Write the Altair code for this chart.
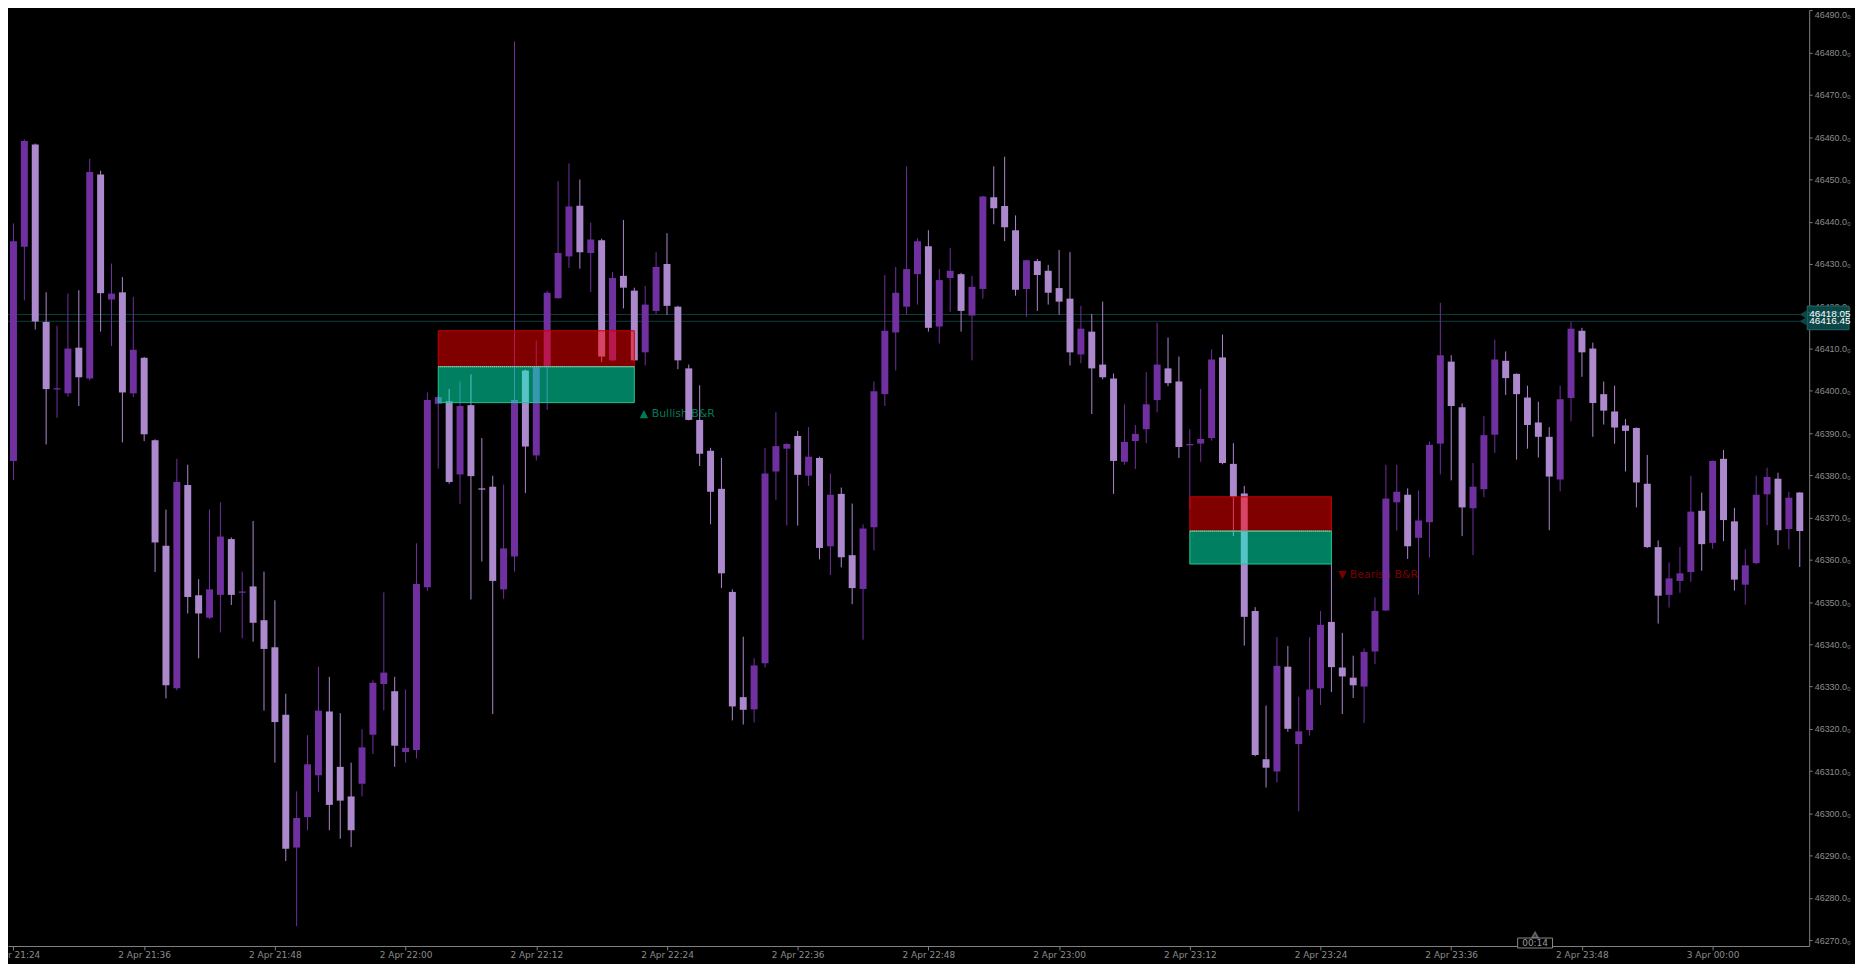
import altair as alt
import pandas as pd

# ---------------- data (1-minute candles, index 0 = 2 Apr 21:24) ----------------
FIRST_INDEX = -1
OPEN = [46405.0, 46383.4, 46434.1, 46458.3, 46416.3, 46400.3, 46399.4, 46410.2, 46402.9, 46451.2,
        46421.6, 46423.3, 46399.4, 46407.8, 46388.3, 46363.3, 46329.6, 46377.7, 46351.6, 46346.3,
        46351.7, 46364.9, 46352.2, 46353.7, 46345.7, 46339.3, 46323.3, 46291.9, 46299.1, 46309.0,
        46324.1, 46311.0, 46304.0, 46307.0, 46318.6, 46330.6, 46328.9, 46314.5, 46315.0, 46353.5,
        46396.9, 46397.5, 46380.2, 46396.6, 46376.9, 46377.3, 46353.0, 46360.8, 46404.8, 46384.7,
        46405.9, 46421.9, 46431.8, 46443.8, 46432.6, 46435.6, 46407.2, 46427.2, 46423.7, 46409.1,
        46418.9, 46430.0, 46419.9, 46405.3, 46393.1, 46385.8, 46376.8, 46352.4, 46327.5, 46324.6,
        46335.5, 46380.9, 46386.3, 46389.3, 46379.9, 46384.1, 46363.2, 46375.6, 46361.1, 46353.1,
        46367.7, 46399.2, 46413.8, 46419.9, 46427.6, 46434.2, 46415.2, 46426.7, 46427.6, 46417.8,
        46424.1, 46445.8, 46443.7, 46438.0, 46424.1, 46430.7, 46428.4, 46424.3, 46421.8, 46408.6,
        46414.0, 46406.2, 46402.9, 46383.2, 46388.1, 46390.9, 46397.8, 46405.3, 46402.2, 46387.1,
        46387.5, 46388.8, 46407.9, 46382.7, 46375.7, 46347.9, 46312.8, 46309.9, 46334.7, 46316.4,
        46319.7, 46329.6, 46345.3, 46334.5, 46332.1, 46330.0, 46338.3, 46348.0, 46373.6, 46375.4,
        46365.2, 46368.9, 46387.5, 46406.9, 46396.1, 46372.2, 46376.7, 46389.6, 46407.1, 46404.0,
        46398.4, 46392.5, 46389.1, 46379.0, 46398.3, 46414.2, 46410.0, 46399.2, 46395.1, 46391.8,
        46391.2, 46378.0, 46363.0, 46351.7, 46355.0, 46357.1, 46371.6, 46364.0, 46383.9, 46369.1,
        46354.1, 46359.2, 46375.5, 46379.2, 46367.3, 46375.9]
HIGH = [46407.0, 46439.6, 46459.5, 46458.5, 46423.3, 46415.4, 46423.0, 46423.8, 46454.9, 46452.1,
        46430.1, 46426.9, 46422.2, 46408.0, 46388.5, 46371.9, 46383.9, 46382.5, 46355.4, 46371.9,
        46373.6, 46365.3, 46357.2, 46369.2, 46357.2, 46350.4, 46328.3, 46305.2, 46318.5, 46334.7,
        46332.3, 46323.7, 46312.0, 46319.9, 46331.5, 46352.3, 46332.3, 46329.3, 46363.9, 46399.6,
        46399.0, 46400.4, 46402.2, 46403.9, 46388.8, 46379.9, 46377.8, 46482.7, 46405.0, 46411.9,
        46423.6, 46449.6, 46453.8, 46450.0, 46439.8, 46436.0, 46428.1, 46440.4, 46424.4, 46424.8,
        46432.8, 46437.3, 46420.1, 46406.2, 46401.3, 46386.5, 46384.1, 46353.0, 46341.8, 46336.7,
        46386.5, 46394.9, 46387.6, 46390.5, 46391.4, 46384.4, 46380.4, 46377.1, 46373.3, 46368.4,
        46402.2, 46427.4, 46429.3, 46453.1, 46436.1, 46438.0, 46428.8, 46433.8, 46427.9, 46427.2,
        46446.1, 46453.1, 46455.4, 46441.5, 46431.0, 46431.2, 46429.8, 46433.3, 46432.8, 46420.1,
        46418.2, 46421.1, 46404.1, 46396.8, 46391.9, 46404.4, 46416.1, 46412.6, 46408.1, 46390.9,
        46400.4, 46409.8, 46413.3, 46387.6, 46377.5, 46348.8, 46325.5, 46341.7, 46339.6, 46327.6,
        46341.7, 46347.9, 46359.0, 46342.7, 46337.3, 46339.0, 46351.1, 46382.5, 46382.5, 46376.9,
        46376.4, 46388.0, 46420.8, 46408.4, 46397.0, 46382.9, 46394.0, 46412.1, 46409.3, 46404.1,
        46401.2, 46397.4, 46391.4, 46401.2, 46416.4, 46414.9, 46411.4, 46402.2, 46401.2, 46393.3,
        46391.3, 46384.8, 46364.6, 46359.4, 46363.0, 46379.9, 46375.9, 46383.5, 46386.0, 46372.3,
        46362.5, 46379.9, 46381.8, 46380.6, 46376.1, 46376.0]
LOW = [46380.0, 46378.9, 46421.4, 46414.5, 46387.3, 46393.6, 46398.6, 46396.4, 46402.5, 46414.0,
       46410.6, 46387.8, 46398.5, 46388.1, 46357.1, 46327.2, 46329.1, 46347.3, 46336.7, 46346.0,
       46342.8, 46349.3, 46341.4, 46340.6, 46324.3, 46312.0, 46288.7, 46273.3, 46296.0, 46305.0,
       46296.0, 46294.0, 46292.0, 46304.0, 46314.0, 46324.4, 46311.0, 46312.0, 46313.0, 46352.6,
       46381.6, 46378.0, 46373.2, 46350.6, 46359.6, 46323.5, 46350.8, 46357.2, 46375.8, 46383.5,
       46395.5, 46421.8, 46429.1, 46428.9, 46423.4, 46406.8, 46407.0, 46419.5, 46407.0, 46406.0,
       46418.1, 46418.0, 46405.1, 46393.0, 46382.2, 46368.4, 46353.3, 46322.0, 46321.0, 46321.5,
       46334.5, 46374.2, 46368.1, 46368.1, 46377.5, 46360.1, 46356.4, 46358.2, 46349.5, 46341.1,
       46362.2, 46396.4, 46404.8, 46418.0, 46420.4, 46414.0, 46411.2, 46418.7, 46414.0, 46407.2,
       46421.8, 46439.4, 46435.4, 46422.5, 46417.5, 46418.9, 46420.4, 46418.0, 46406.0, 46406.5,
       46394.5, 46402.7, 46375.6, 46382.5, 46381.5, 46387.6, 46394.9, 46401.1, 46384.1, 46372.0,
       46383.2, 46388.2, 46382.6, 46365.6, 46339.7, 46313.5, 46306.1, 46307.3, 46319.3, 46300.5,
       46318.4, 46325.6, 46328.7, 46323.5, 46327.3, 46321.4, 46335.3, 46347.9, 46366.9, 46360.2,
       46351.7, 46360.6, 46380.2, 46378.8, 46365.6, 46361.1, 46374.8, 46385.3, 46399.0, 46383.7,
       46386.3, 46384.2, 46367.0, 46376.2, 46392.8, 46403.3, 46389.1, 46392.0, 46387.5, 46380.9,
       46372.4, 46362.8, 46344.9, 46348.7, 46352.2, 46354.8, 46357.4, 46362.6, 46364.4, 46352.7,
       46349.4, 46359.0, 46368.2, 46363.5, 46362.5, 46358.3]
CLOSE = [46383.9, 46435.4, 46459.1, 46416.4, 46400.4, 46400.6, 46410.0, 46403.2, 46451.8, 46423.1,
         46423.0, 46399.6, 46409.7, 46389.7, 46364.1, 46330.3, 46378.4, 46351.2, 46347.3, 46353.0,
         46365.5, 46351.7, 46352.5, 46345.1, 46338.9, 46321.6, 46291.6, 46298.9, 46311.6, 46324.3,
         46302.0, 46303.0, 46296.0, 46315.6, 46330.9, 46333.3, 46316.0, 46315.5, 46354.3, 46397.8,
         46398.5, 46378.4, 46396.4, 46379.8, 46376.6, 46355.0, 46362.7, 46397.8, 46386.8, 46405.9,
         46423.2, 46432.6, 46443.6, 46432.8, 46435.8, 46408.1, 46426.7, 46424.4, 46407.2, 46420.4,
         46429.3, 46420.1, 46407.2, 46393.1, 46385.1, 46376.1, 46356.8, 46325.3, 46324.5, 46335.0,
         46380.4, 46386.9, 46387.4, 46380.1, 46384.4, 46362.8, 46375.4, 46360.6, 46353.3, 46367.4,
         46399.9, 46414.2, 46423.2, 46428.8, 46435.4, 46414.9, 46426.2, 46428.4, 46418.9, 46424.6,
         46446.0, 46443.2, 46438.7, 46423.9, 46430.9, 46427.4, 46423.2, 46421.1, 46409.1, 46414.7,
         46405.3, 46403.2, 46383.4, 46387.9, 46389.8, 46396.8, 46406.2, 46401.8, 46386.7, 46387.4,
         46388.6, 46407.4, 46382.9, 46374.9, 46346.5, 46313.8, 46310.8, 46334.9, 46320.0, 46319.4,
         46329.3, 46344.6, 46334.6, 46332.4, 46330.3, 46338.2, 46347.9, 46374.5, 46376.1, 46363.2,
         46369.3, 46387.2, 46408.4, 46396.4, 46372.4, 46377.3, 46389.5, 46407.4, 46403.0, 46399.2,
         46391.9, 46389.1, 46379.7, 46398.0, 46414.7, 46409.1, 46397.1, 46395.3, 46391.3, 46390.5,
         46378.3, 46363.0, 46351.5, 46355.6, 46356.8, 46371.4, 46363.7, 46383.4, 46369.4, 46355.3,
         46358.7, 46375.4, 46379.6, 46367.0, 46374.7, 46366.8]

TICK_POS = [0, 12, 24, 36, 48, 60, 72, 84, 96, 108, 120, 132, 144, 156]
TICK_LABELS = ["2 Apr 21:24", "2 Apr 21:36", "2 Apr 21:48", "2 Apr 22:00", "2 Apr 22:12",
               "2 Apr 22:24", "2 Apr 22:36", "2 Apr 22:48", "2 Apr 23:00", "2 Apr 23:12",
               "2 Apr 23:24", "2 Apr 23:36", "2 Apr 23:48", "3 Apr 00:00"]
Y_TICKS = list(range(46270, 46491, 10))

ZONE_START = [39, 108]
ZONE_END = [57, 121]
ZONE_TOP = [46414.2, 46374.9]
ZONE_MID = [46405.7, 46366.8]
ZONE_BOTTOM = [46397.2, 46359.0]
ZONE_LABELS = ["▲ Bullish B&R", "▼ Bearish B&R"]
ZONE_LABEL_X = [57.5, 121.6]
ZONE_LABEL_Y = [46394.5, 46356.4]
ZONE_LABEL_KIND = ["bull", "bear"]

PRICE_LINES = [46418.05, 46416.45]
PRICE_LINE_LABELS = ["46418.05", "46416.45"]

COUNTDOWN = ["00:14"]
COUNTDOWN_X = [139.7]

# ---------------- styling ----------------
BULL = "#7030A0"
BEAR = "#AC88CC"
W, H = 1809, 940
X_DOMAIN = [-0.0455, 164.409]
Y_DOMAIN = [46268.6, 46490.1]

n = len(OPEN)
df = pd.DataFrame({
    "idx": list(range(FIRST_INDEX, FIRST_INDEX + n)),
    "open": OPEN, "high": HIGH, "low": LOW, "close": CLOSE,
})
df["dir"] = ["up" if c >= o else "down" for o, c in zip(df["open"], df["close"])]

zones = pd.DataFrame({"start": ZONE_START, "end": ZONE_END, "top": ZONE_TOP,
                      "mid": ZONE_MID, "bottom": ZONE_BOTTOM})
zlabels = pd.DataFrame({"x": ZONE_LABEL_X, "y": ZONE_LABEL_Y, "text": ZONE_LABELS,
                        "kind": ZONE_LABEL_KIND})
plines = pd.DataFrame({"price": PRICE_LINES, "label": PRICE_LINE_LABELS})
plines["top"] = plines["price"] + 2.0
plines["bot"] = plines["price"] - 2.0
cd = pd.DataFrame({"x": COUNTDOWN_X, "text": COUNTDOWN})
cd["x1"] = cd["x"] - 1.6
cd["x2"] = cd["x"] + 1.6

x_label_expr = " : ".join(f"datum.value == {p} ? '{l}'" for p, l in zip(TICK_POS, TICK_LABELS)) + " : ''"

X_AXIS = alt.Axis(values=TICK_POS, labelExpr=x_label_expr, title=None, grid=False,
                  tickSize=4, labelPadding=1, labelFlush=False, labelOverlap=False,
                  domainColor="#808080", tickColor="#808080", labelColor="#8c8c8c",
                  labelFont="DejaVu Sans", labelFontSize=9)
Y_AXIS = alt.Axis(values=Y_TICKS, labelExpr="format(datum.value, '.1f') + '₀'", title=None,
                  grid=False, orient="right", tickSize=3, labelPadding=2, labelAlign="left",
                  labelOverlap=False, labelFlush=3,
                  domainColor="#808080", tickColor="#808080", labelColor="#8c8c8c",
                  labelFont="Liberation Sans", labelFontSize=9)
XS = alt.Scale(domain=X_DOMAIN, nice=False, zero=False)
YS = alt.Scale(domain=Y_DOMAIN, nice=False, zero=False)
color = alt.Color("dir:N", scale=alt.Scale(domain=["up", "down"], range=[BULL, BEAR]), legend=None)

base = alt.Chart(df)

price_rules = alt.Chart(plines).mark_rule(color="#0d3b3b", strokeWidth=1).encode(
    y=alt.Y("price:Q", scale=YS, axis=Y_AXIS))


def zone_text_layer(kind, col):
    return alt.Chart(zlabels).transform_filter(alt.datum.kind == kind).mark_text(
        align="left", baseline="middle", font="DejaVu Sans", fontSize=11, color=col).encode(
        x=alt.X("x:Q", scale=XS, axis=X_AXIS), y=alt.Y("y:Q", scale=YS, axis=Y_AXIS), text="text:N")


bull_text = zone_text_layer("bull", "#007a58")
bear_text = zone_text_layer("bear", "#7a0000")

wicks = base.mark_rule(strokeWidth=1, clip=True).encode(
    x=alt.X("idx:Q", scale=XS, axis=X_AXIS),
    y=alt.Y("low:Q", scale=YS, axis=Y_AXIS), y2="high:Q", color=color)

bodies = base.mark_bar(size=7, clip=True, minBandSize=1).encode(
    x=alt.X("idx:Q", scale=XS, axis=X_AXIS),
    y=alt.Y("open:Q", scale=YS, axis=Y_AXIS), y2="close:Q", color=color)

red_zone = alt.Chart(zones).mark_rect(fill="#ff0000", fillOpacity=0.5, stroke="#c80000",
                                      strokeWidth=1).encode(
    x=alt.X("start:Q", scale=XS, axis=X_AXIS), x2="end:Q",
    y=alt.Y("top:Q", scale=YS, axis=Y_AXIS), y2="mid:Q")
green_zone = alt.Chart(zones).mark_rect(fill="#00ffc0", fillOpacity=0.5, stroke="#1fc88f",
                                        strokeWidth=1).encode(
    x=alt.X("start:Q", scale=XS, axis=X_AXIS), x2="end:Q",
    y=alt.Y("mid:Q", scale=YS, axis=Y_AXIS), y2="bottom:Q")
mid_rule = alt.Chart(zones).mark_rule(color="#c8c8c8", strokeDash=[1, 1], strokeWidth=1).encode(
    x=alt.X("start:Q", scale=XS, axis=X_AXIS), x2="end:Q",
    y=alt.Y("mid:Q", scale=YS, axis=Y_AXIS))

tag_box = alt.Chart(plines).mark_rect(fill="#0c4646", stroke="#1c6a6a", strokeWidth=1,
                                      clip=False).encode(
    x=alt.value(W - 2), x2=alt.value(W + 40),
    y=alt.Y("top:Q", scale=YS, axis=Y_AXIS), y2="bot:Q")
tag_arrow = alt.Chart(plines).mark_point(shape="triangle-left", filled=True, fill="#0c4646",
                                         size=70, opacity=1, clip=False).encode(
    x=alt.value(W - 6), y=alt.Y("price:Q", scale=YS, axis=Y_AXIS))
tag_text = alt.Chart(plines).mark_text(align="left", baseline="middle", color="#ffffff",
                                       font="Liberation Sans", fontSize=10, clip=False).encode(
    x=alt.value(W), y=alt.Y("price:Q", scale=YS, axis=Y_AXIS), text="label:N")

cd_box = alt.Chart(cd).mark_rect(fill="#000000", stroke="#8a8a8a", strokeWidth=1, clip=False).encode(
    x=alt.X("x1:Q", scale=XS, axis=X_AXIS), x2="x2:Q", y=alt.value(H - 8), y2=alt.value(H + 2))
cd_caret = alt.Chart(cd).mark_point(shape="triangle-up", filled=False, stroke="#8a8a8a",
                                    size=30, clip=False).encode(
    x=alt.X("x:Q", scale=XS, axis=X_AXIS), y=alt.value(H - 11))
cd_text = alt.Chart(cd).mark_text(align="center", baseline="middle", color="#9a9a9a",
                                  font="DejaVu Sans", fontSize=9, clip=False).encode(
    x=alt.X("x:Q", scale=XS, axis=X_AXIS), y=alt.value(H - 3), text="text:N")

chart = alt.layer(
    price_rules, bull_text, bear_text, wicks, bodies, red_zone, green_zone, mid_rule,
    tag_box, tag_arrow, tag_text, cd_caret, cd_box, cd_text
).properties(
    width=W, height=H, background="#000000",
    padding={"left": 0, "top": 0, "right": 46, "bottom": 16},
    autosize=alt.AutoSizeParams(type="none"),
).configure_view(stroke=None)

chart.save("out.html", embed_options={"renderer": "svg", "actions": False})
